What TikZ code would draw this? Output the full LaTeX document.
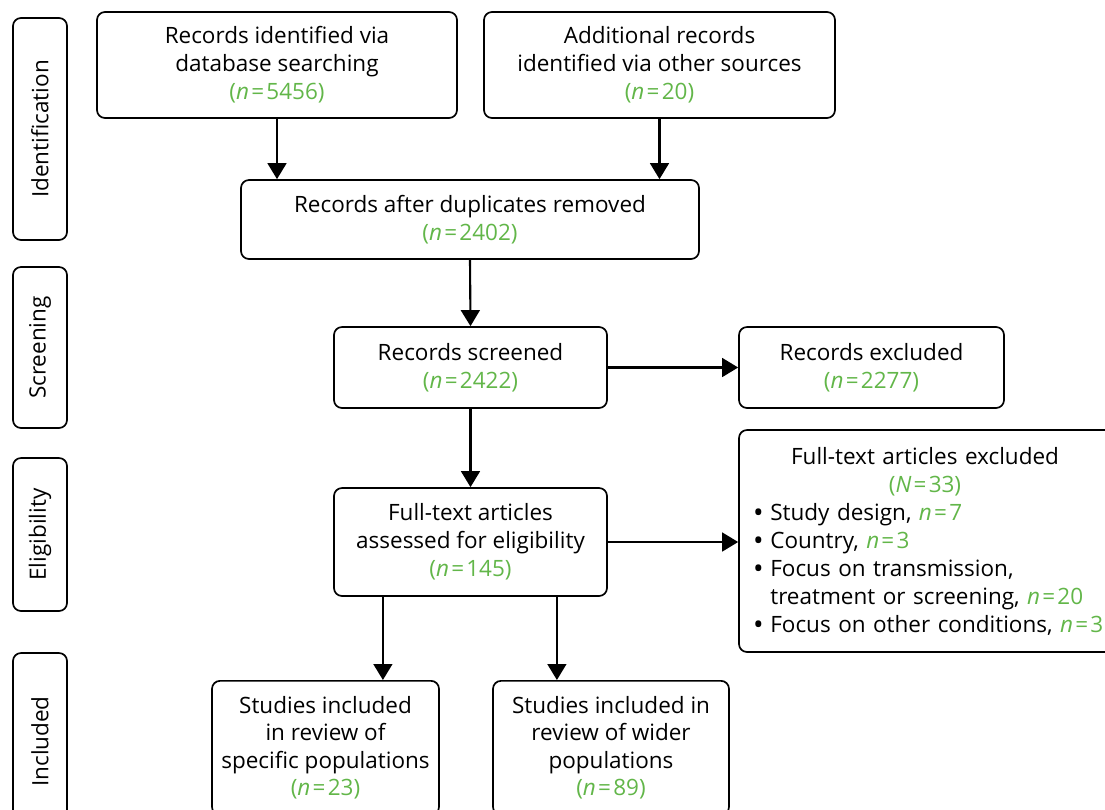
\documentclass[tikz,border=0pt]{standalone}
\usepackage{fontspec}
\setmainfont{Open Sans}
\usetikzlibrary{arrows.meta}
\definecolor{ngreen}{RGB}{98,182,73}
\newcommand{\ncount}[2][n]{{\color{ngreen}(\textit{#1}\hspace{0.1em}=\hspace{0.1em}#2)}}
\newcommand{\nval}[1]{{\color{ngreen}\textit{n}\hspace{0.1em}=\hspace{0.1em}#1}}
\newcommand{\bigbullet}{\raisebox{-1.5pt}{\fontsize{20}{19.9}\selectfont\textbullet}\hspace{0.3em}}

\begin{document}
\begin{tikzpicture}[
	font=\fontsize{16}{19.9}\selectfont,
	stagebox/.style={rectangle, rounded corners=0.2cm, draw=black, line width=1.2pt, minimum height=1.35cm, rotate=90},
	flowbox/.style={rectangle, rounded corners=0.2cm, draw=black, line width=1.2pt, align=center},
	flowarrow/.style={-{Triangle[length=0.4cm, width=0.47cm]}, line width=1.5pt},
	]
	\useasboundingbox (0,0) rectangle (27.625,-20.225);
	%Stages
	\node[stagebox, minimum width=5.55cm] (ident) at (1.0,-3.225) {Identification};
	\node[stagebox, minimum width=4.025cm] (screen) at (1.0,-8.6875) {Screening};
	\node[stagebox, minimum width=3.825cm] (elig) at (1.0,-13.3625) {Eligibility};
	\node[stagebox, minimum width=4.425cm] (incl) at (1.0,-18.5375) {Included};
	%
	%Flow boxes
	\node[flowbox, minimum width=9cm, minimum height=2.65cm] (dbsearch) at (6.925,-1.625)
		{Records identified via\\database searching\\\ncount{5456}};
	\node[flowbox, minimum width=8.775cm, minimum height=2.65cm] (othersrc) at (16.4875,-1.625)
		{Additional records\\identified via other sources\\\ncount{20}};
	\node[flowbox, minimum width=11.45cm, minimum height=1.975cm] (dedup) at (11.75,-5.4875)
		{Records after duplicates removed\\\ncount{2402}};
	\node[flowbox, minimum width=6.825cm, minimum height=2.025cm] (screened) at (11.7625,-9.1875)
		{Records screened\\\ncount{2422}};
	\node[flowbox, minimum width=6.625cm, minimum height=2.025cm] (recexcl) at (21.7875,-9.1875)
		{Records excluded\\\ncount{2277}};
	\node[flowbox, minimum width=6.825cm, minimum height=2.7cm] (fulltext) at (11.7625,-13.55)
		{Full-text articles\\assessed for eligibility\\\ncount{145}};
	\node[flowbox, align=left, text width=9.2cm, inner xsep=0.35cm, minimum height=5.55cm] (ftexcl) at (23.425,-13.525)
		{\makebox[8.6cm][c]{Full-text articles excluded}\\
		\makebox[8.6cm][c]{\ncount[N]{33}}\\
		\bigbullet Study design, \nval{7}\\
		\bigbullet Country, \nval{3}\\
		\bigbullet Focus on transmission,\\
		\phantom{\bigbullet}treatment or screening, \nval{20}\\
		\bigbullet Focus on other conditions, \nval{3}};
	\node[flowbox, anchor=north, font=\fontsize{16}{19.4}\selectfont, minimum width=5.675cm, minimum height=3.35cm] (specific) at (8.1375,-17.0)
		{Studies included\\in review of\\specific populations\\\ncount{23}};
	\node[flowbox, anchor=north, font=\fontsize{16}{19.4}\selectfont, minimum width=5.9cm, minimum height=3.35cm] (wider) at (15.275,-17.0)
		{Studies included in\\review of wider\\populations\\\ncount{89}};
	%
	%Arrows
	\draw[flowarrow] (dbsearch.south) -- (dbsearch.south |- dedup.north);
	\draw[flowarrow] (othersrc.south) -- (othersrc.south |- dedup.north);
	\draw[flowarrow] (dedup.south) -- (screened.north);
	\draw[flowarrow] (screened.east) -- (recexcl.west);
	\draw[flowarrow] (screened.south) -- (fulltext.north);
	\draw[flowarrow] (fulltext.east) -- (fulltext.east -| ftexcl.west);
	\draw[flowarrow] ([xshift=-2.19cm]fulltext.south) -- ([xshift=-2.19cm]fulltext.south |- specific.north);
	\draw[flowarrow] ([xshift=2.16cm]fulltext.south) -- ([xshift=2.16cm]fulltext.south |- wider.north);
\end{tikzpicture}
\end{document}
